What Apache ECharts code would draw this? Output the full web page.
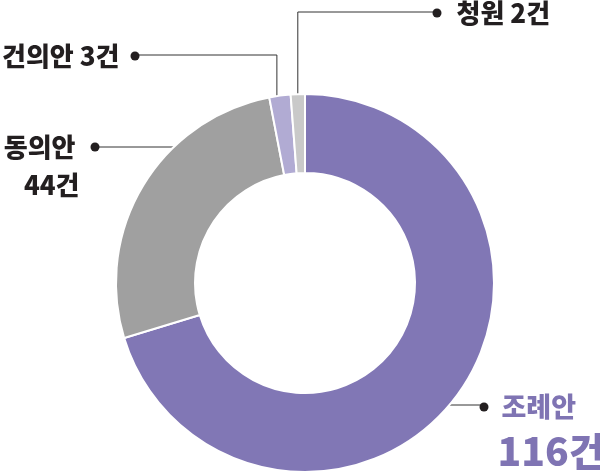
<!DOCTYPE html>
<html>
<head>
<meta charset="utf-8">
<script src="https://cdn.jsdelivr.net/npm/echarts@6/dist/echarts.min.js"></script>
<style>
html,body{margin:0;padding:0;background:#fff;}
#c{width:600px;height:476px;}
</style>
</head>
<body>
<div id="c"></div>
<script>
// data
var categories = ['조례안', '동의안', '건의안', '청원'];
var values = [116, 44, 3, 2];
var unit = '건';

var colors = ['#8177b5', '#a0a0a0', '#b1abd3', '#c9c9c9'];
var FONT = '"Noto Sans CJK KR", "Noto Sans", sans-serif';
var CX = 305, CY = 283, R0 = 110, R1 = 189;
var DOT = '#231f20';

function fmt(p) {
  var i = p.dataIndex, name = p.name, v = p.value;
  if (i === 0) return '{dot|}{g1|}{p|' + name + '}\n{sp0|}{big|' + v + unit + '}';
  if (i === 1) return '{t|' + name + '}{g2|}{dot|}\n{t|' + v + unit + '}{sp1|}';
  if (i === 2) return '{t|' + name + ' ' + v + unit + '}{g3|}{dot|}';
  return '{dot|}{g4|}{t|' + name + ' ' + v + unit + '}';
}

var rich = {
  dot: {width: 9, height: 9, borderRadius: 4.5, backgroundColor: DOT},
  g1: {width: 13}, g2: {width: 15}, g3: {width: 11}, g4: {width: 15},
  sp0: {width: 18}, sp1: {width: 20},
  t: {fontFamily: FONT, fontWeight: 900, fontSize: 26, color: '#231f20', lineHeight: 38},
  p: {fontFamily: FONT, fontWeight: 900, fontSize: 27, color: '#7f74b3', lineHeight: 34},
  big: {fontFamily: FONT, fontWeight: 900, fontSize: 39, color: '#7f74b3', lineHeight: 54}
};

// per-slice leader layout: y of horizontal segment, x of dot
var lead = [
  {y: 405, dotX: 484},
  {y: 147, dotX: 95},
  {y: 55, dotX: 135},
  {y: 12, dotX: 437}
];

function edgeX(y, side) {
  var dy = y - CY;
  return CX + side * Math.sqrt(R1 * R1 - dy * dy);
}

var chart = echarts.init(document.getElementById('c'), null, {renderer: 'canvas'});
chart.setOption({
  animation: false,
  series: [{
    type: 'pie',
    center: [CX, CY],
    radius: [R0, R1],
    startAngle: 90,
    clockwise: true,
    data: categories.map(function (c, i) {
      return {name: c, value: values[i], itemStyle: {color: colors[i]}};
    }),
    itemStyle: {borderColor: '#fff', borderWidth: 2},
    label: {show: true, formatter: fmt, rich: rich, overflow: 'none', edgeDistance: 0, bleedMargin: 0},
    labelLine: {show: true, lineStyle: {color: '#333', width: 1}},
    labelLayout: function (params) {
      var i = params.dataIndex;
      var L = lead[i];
      var a = params.labelLinePoints ? params.labelLinePoints[0] : [CX, CY - R1];
      if (i === 0) {
        return {x: L.dotX - 4.5, y: L.y - 15, align: 'left', verticalAlign: 'top', width: 200,
          labelLinePoints: [[edgeX(L.y, 1), L.y], [L.dotX, L.y], [L.dotX, L.y]]};
      }
      if (i === 1) {
        return {x: L.dotX + 4.5, y: L.y - 19, align: 'right', verticalAlign: 'top', width: 200,
          labelLinePoints: [[edgeX(L.y, -1), L.y], [L.dotX, L.y], [L.dotX, L.y]]};
      }
      if (i === 2) {
        return {x: L.dotX + 4.5, y: L.y + 1, align: 'right', verticalAlign: 'middle', width: 200,
          labelLinePoints: [[a[0] - 3, a[1]], [a[0] - 3, L.y], [L.dotX, L.y]]};
      }
      return {x: L.dotX - 4.5, y: L.y + 1, align: 'left', verticalAlign: 'middle', width: 200,
        labelLinePoints: [[a[0], a[1]], [a[0], L.y], [L.dotX, L.y]]};
    }
  }]
});
</script>
</body>
</html>
